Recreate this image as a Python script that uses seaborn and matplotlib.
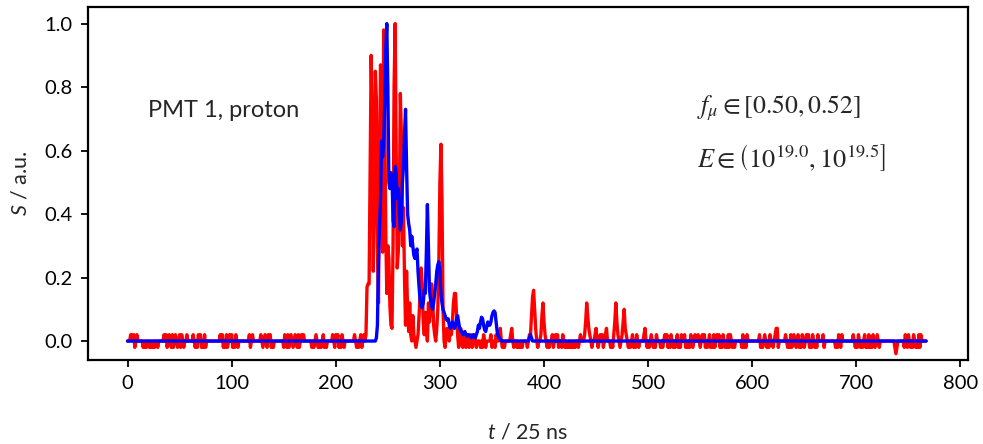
import numpy as np
import pandas as pd
import seaborn as sns
import matplotlib.pyplot as plt

n_samples = 768
step = 0.02  # quantisation of the red trace

# red trace away from the pulse: start sample -> level codes
# ("-" = -1 step, "=" = -2 steps, digit k = +k steps)
red_noise = {
    3: "1101-01", 15: "-0--00-0--0-00-", 35: "101-010-1-010-01-10-0010",
    63: "10-0-101-0-1-", 89: "101-0-1-0101-0-10-", 116: "01-010",
    128: "10-010-101-0-", 150: "-10-1-010-010-1-0101", 177: "-0-010--0-01-0-",
    197: "10-101-0-10-", 218: "10-0-", 224: "1-",
    338: "0-0-10-0", 348: "01-00-10", 356: "0120-0-", 367: "0120-",
    374: "-0--0-0", 383: "0-01", 387: "1478520-", 396: "0146310-0-",
    407: "01-0101-00-10", 420: "-0--0-0--0-0", 432: "0-01", 438: "01364210-",
    448: "0120-0101-0120", 464: "-0-", 467: "136310-", 474: "0135210",
    481: "-0-01-0-10-0", 495: "0120-0-", 503: "10-0-10",
    512: "-0-0101-0-10-0-01-0-10", 535: "1-0-0-10-010",
    548: "10-0101-0-01-0-1-0101-0-10-0-1", 578: "-10-0-0", 589: "0-1-0-10",
    607: "1-0-010-0-10", 619: "0-0122-0", 632: "10-0-1-010-01-0-10-0101-0-10-0-1",
    668: "1-0", 680: "-0-10-1", 697: "10-0-10-0-01-0-1-0-10-010-",
    736: "0-=-0", 746: "-10-10-0-10-0-1-1",
}

red_peak_start = 226
red_peak = [
    0.0, 0.02, 0.0, 0.02, 0.17, 0.18, 0.18, 0.55, 0.90, 0.68,
    0.22, 0.45, 0.85, 0.76, 0.30, 0.12, 0.55, 0.87, 0.62, 0.28,
    0.98, 0.72, 0.35, 0.15, 0.30, 0.26, 0.11, 0.05, 0.04, 0.30,
    0.80, 1.00, 0.62, 0.23, 0.28, 0.40, 0.78, 0.65, 0.30, 0.42,
    0.20, 0.05, 0.22, 0.10, 0.03, 0.12, 0.02, 0.0, 0.08, 0.02,
    0.0, -0.02, 0.0, 0.02, 0.08, 0.15, 0.23, 0.18, 0.06, 0.02,
    0.09, 0.04, 0.0, 0.12, 0.06, 0.10, 0.18, 0.14, 0.05, 0.02,
    0.0, 0.04, 0.10, 0.25, 0.50, 0.62, 0.45, 0.10, 0.0, -0.02,
    0.02, 0.04, 0.02, 0.0, 0.04, 0.02, 0.06, 0.12, 0.15, 0.15,
    0.08, 0.02, -0.02, 0.0, 0.04, 0.0, -0.02, 0.02, 0.0, -0.02,
    0.0, 0.02, -0.02, 0.0, 0.02, -0.02, 0.0, 0.02, 0.0, -0.02,
]

blue_peak_start = 238
blue_peak = [
    0.0, 0.01, 0.05, 0.25, 0.36, 0.45, 0.63, 0.58, 0.62, 0.75,
    0.92, 1.00, 0.80, 0.50, 0.48, 0.53, 0.52, 0.38, 0.36, 0.55,
    0.53, 0.45, 0.48, 0.40, 0.35, 0.38, 0.50, 0.55, 0.65, 0.73,
    0.55, 0.40, 0.37, 0.35, 0.30, 0.33, 0.30, 0.27, 0.26, 0.28,
    0.29, 0.22, 0.17, 0.13, 0.11, 0.105, 0.12, 0.16, 0.15, 0.28,
    0.43, 0.30, 0.16, 0.13, 0.11, 0.10, 0.12, 0.15, 0.18, 0.22,
    0.24, 0.25, 0.22, 0.15, 0.12, 0.10, 0.09, 0.08, 0.07, 0.065,
    0.07, 0.05, 0.04, 0.05, 0.06, 0.05, 0.04, 0.05, 0.07, 0.08,
    0.06, 0.04, 0.03, 0.03, 0.02, 0.025, 0.03, 0.02, 0.015, 0.02,
    0.02, 0.015, 0.01, 0.015, 0.02, 0.015, 0.01, 0.02, 0.03, 0.05,
    0.04, 0.06, 0.075, 0.07, 0.05, 0.035, 0.03, 0.045, 0.06, 0.05,
    0.05, 0.06, 0.08, 0.09, 0.095, 0.09, 0.06, 0.03, 0.015, 0.01,
    0.005,
]
blue_bumps = {386: 0.01, 387: 0.02, 388: 0.01}

# build traces
t = np.arange(n_samples)
codes = {"-": -1, "=": -2}
red = np.zeros(n_samples)
for start, code in red_noise.items():
    for i, c in enumerate(code):
        red[start + i] = step * (codes[c] if c in codes else int(c))
red[red_peak_start:red_peak_start + len(red_peak)] = red_peak

blue = np.zeros(n_samples)
blue[blue_peak_start:blue_peak_start + len(blue_peak)] = blue_peak
for k, v in blue_bumps.items():
    blue[k] = v

df = pd.DataFrame({"t": t, "red": red, "blue": blue})

sns.set_theme(style="ticks")
plt.rcParams["font.family"] = ["Lato", "DejaVu Sans"]
plt.rcParams["mathtext.fontset"] = "custom"
plt.rcParams["mathtext.rm"] = "Lato"
plt.rcParams["mathtext.it"] = "Lato:italic"
plt.rcParams["axes.linewidth"] = 1.6
plt.rcParams["xtick.major.width"] = 1.3
plt.rcParams["ytick.major.width"] = 1.3
plt.rcParams["xtick.major.size"] = 5
plt.rcParams["ytick.major.size"] = 5

fig = plt.figure(figsize=(9.83, 4.44), dpi=100)
ax = fig.add_axes([0.0895, 0.189, 0.895, 0.795])

sns.lineplot(data=df, x="t", y="red", color="#ff0000", lw=2.4, ax=ax)
sns.lineplot(data=df, x="t", y="blue", color="#0000ff", lw=2.4, ax=ax)

ax.set_xlim(-38, 807)
ax.set_ylim(-0.06, 1.052)
ax.set_xticks(np.arange(0, 801, 100))
ax.set_yticks(np.arange(0, 1.01, 0.2))
ax.set_yticklabels([f"{v:.1f}" for v in np.arange(0, 1.01, 0.2)])
ax.tick_params(labelsize=14.5, colors="black", pad=6)
for s in ax.spines.values():
    s.set_color("black")
    s.set_visible(True)

ax.set_xlabel("$t$ / 25 ns", fontsize=15.5, labelpad=22)
ax.set_ylabel("$S$ / a.u.", fontsize=15.5, labelpad=10)

ax.text(20, 0.726, "PMT 1, proton", fontsize=17, va="center")
ax.text(547, 0.733, r"$f_\mu \in [0.50, 0.52]$", fontsize=18.5, va="center",
        math_fontfamily="stix")
ax.text(547, 0.579, r"$E \in \left(10^{19.0}, 10^{19.5}\right]$", fontsize=19,
        va="center", math_fontfamily="stix")

fig.savefig("out.png", dpi=100)
